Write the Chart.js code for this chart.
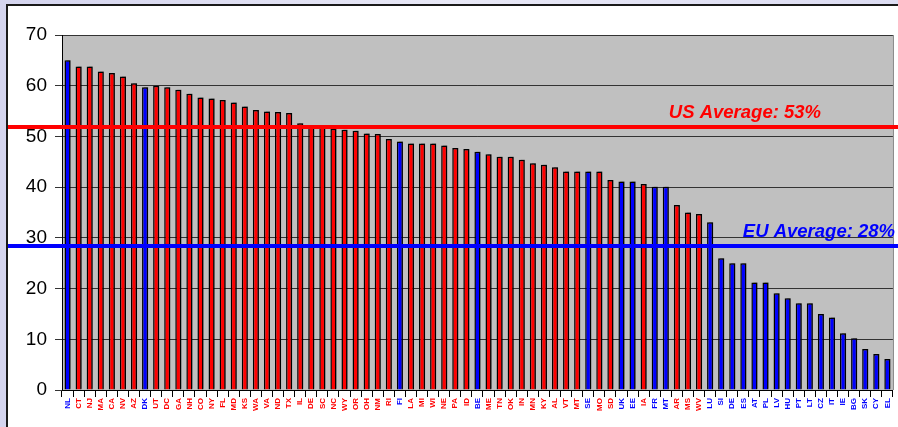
<!DOCTYPE html>
<html>
<head>
<meta charset="utf-8">
<script src="https://cdn.jsdelivr.net/npm/chart.js@4.4.1/dist/chart.umd.min.js"></script>
<style>
  html, body { margin: 0; padding: 0; background: #e4e4f4; }
  #c { display: block; }
</style>
</head>
<body>
<canvas id="c" width="898" height="427"></canvas>
<script>
// ---- data ----
const categories = ['NL','CT','NJ','MA','CA','NV','AZ','DK','UT','DC','GA','NH','CO','NY','FL','MD','KS','WA','VA','ND','TX','IL','DE','SC','NC','WY','OR','OH','NM','RI','FI','LA','MI','WI','NE','PA','ID','BE','ME','TN','OK','IN','MN','KY','AL','VT','MT','SE','MO','SD','UK','EE','IA','FR','MT','AR','MS','WV','LU','SI','DE','ES','AT','PL','LV','HU','PT','LT','CZ','IT','IE','BG','SK','CY','EL'];
const region = ['EU','US','US','US','US','US','US','EU','US','US','US','US','US','US','US','US','US','US','US','US','US','US','US','US','US','US','US','US','US','US','EU','US','US','US','US','US','US','EU','US','US','US','US','US','US','US','US','US','EU','US','US','EU','EU','US','EU','EU','US','US','US','EU','EU','EU','EU','EU','EU','EU','EU','EU','EU','EU','EU','EU','EU','EU','EU','EU'];
const values = [65, 63.8, 63.8, 62.8, 62.5, 61.8, 60.5, 59.7, 60.0, 59.7,
                59.2, 58.4, 57.7, 57.5, 57.2, 56.7, 55.9, 55.2, 54.9, 54.8,
                54.6, 52.6, 52.0, 52.0, 51.5, 51.3, 51.1, 50.6, 50.5, 49.5,
                49.0, 48.6, 48.6, 48.6, 48.2, 47.7, 47.5, 47.0, 46.5, 46.0,
                46.0, 45.4, 44.7, 44.4, 43.9, 43.1, 43.1, 43.1, 43.1, 41.4,
                41.1, 41.1, 40.6, 40.1, 40.1, 36.5, 35.0, 34.7, 33.1, 26.0,
                25.0, 25.0, 21.2, 21.2, 19.1, 18.1, 17.1, 17.1, 15.0, 14.3,
                11.2, 10.2, 8.1, 7.1, 6.1];
const yTicks = [0, 10, 20, 30, 40, 50, 60, 70];
const avgRegions = ['US', 'EU'];
const avgValues = [51.9, 28.4];
const avgLabels = ['US Average: 53%', 'EU Average: 28%'];

// ---- styling ----
const regionColor = { US: '#ff0000', EU: '#0000ff' };
const FONT = "'Liberation Sans', Arial, sans-serif";

const backgroundPlugin = {
  id: 'bg',
  beforeDraw(chart) {
    const ctx = chart.ctx, W = chart.width, H = chart.height;
    ctx.save();
    const g = ctx.createLinearGradient(0, 0, W, 0);
    g.addColorStop(0, '#d4d4ee');
    g.addColorStop(0.5, '#e8e8f6');
    g.addColorStop(1, '#dcdcf2');
    ctx.fillStyle = g;
    ctx.fillRect(0, 0, W, H);
    ctx.fillStyle = '#ffffff';
    ctx.fillRect(7, 5, W, H);
    ctx.strokeStyle = '#1a1a1a';
    ctx.lineWidth = 2;
    ctx.beginPath();
    ctx.moveTo(7, H + 2); ctx.lineTo(7, 5); ctx.lineTo(W + 2, 5);
    ctx.stroke();
    const a = chart.chartArea;
    ctx.fillStyle = '#c0c0c0';
    ctx.fillRect(a.left, a.top, a.right - a.left, a.bottom - a.top);
    ctx.strokeStyle = '#808080';
    ctx.lineWidth = 1;
    ctx.beginPath();
    ctx.moveTo(a.right + 0.5, a.top); ctx.lineTo(a.right + 0.5, a.bottom);
    ctx.stroke();
    ctx.restore();
  }
};

const shadowPlugin = {
  id: 'shadow',
  beforeDatasetsDraw(chart) {
    const ctx = chart.ctx;
    ctx.save();
    ctx.shadowColor = 'rgba(0,0,0,0.35)';
    ctx.shadowOffsetX = 2;
    ctx.shadowOffsetY = -1;
    ctx.shadowBlur = 0;
  },
  afterDatasetsDraw(chart) {
    chart.ctx.restore();
  }
};

const avgPlugin = {
  id: 'avg',
  afterDatasetsDraw(chart) {
    const ctx = chart.ctx, y = chart.scales.y;
    const textRight = [821, 895];
    ctx.save();
    avgValues.forEach((v, i) => {
      const py = Math.round(y.getPixelForValue(v));
      const col = regionColor[avgRegions[i]];
      ctx.fillStyle = col;
      ctx.fillRect(8, py - 2, chart.width - 8, 4);
      ctx.font = "italic bold 18.5px " + FONT;
      ctx.textAlign = 'right';
      ctx.textBaseline = 'alphabetic';
      ctx.fillText(avgLabels[i], textRight[i], py - 9);
    });
    ctx.restore();
  }
};

new Chart(document.getElementById('c'), {
  type: 'bar',
  data: {
    labels: categories,
    datasets: [{
      data: values,
      backgroundColor: region.map(r => regionColor[r]),
      borderColor: '#000000',
      borderWidth: 1.5,
      borderSkipped: 'bottom',
      barPercentage: 0.55,
      categoryPercentage: 1.0
    }]
  },
  options: {
    responsive: false,
    animation: false,
    devicePixelRatio: 1,
    layout: { padding: { left: 0, top: 35, right: 5, bottom: 0 } },
    plugins: { legend: { display: false }, tooltip: { enabled: false } },
    scales: {
      x: {
        offset: true,
        grid: { offset: true, drawOnChartArea: false, drawTicks: true, tickLength: 7, color: '#000000', lineWidth: 1 },
        border: { display: true, color: '#000000', width: 1 },
        ticks: {
          autoSkip: false, minRotation: 90, maxRotation: 90, padding: 1,
          font: { family: FONT, size: 8, weight: 'bold' },
          color: (c) => regionColor[region[c.index]]
        },
        afterFit(s) { s.height = 37; }
      },
      y: {
        min: 0, max: 70,
        afterBuildTicks(s) { s.ticks = yTicks.map(v => ({ value: v })); },
        ticks: { font: { family: FONT, size: 19 }, color: '#000000', padding: 8 },
        grid: { color: '#333333', lineWidth: 1, tickLength: 7, drawTicks: true },
        border: { display: true, color: '#000000', width: 1 },
        afterFit(s) { s.width = 62; }
      }
    }
  },
  plugins: [backgroundPlugin, shadowPlugin, avgPlugin]
});
</script>
</body>
</html>
